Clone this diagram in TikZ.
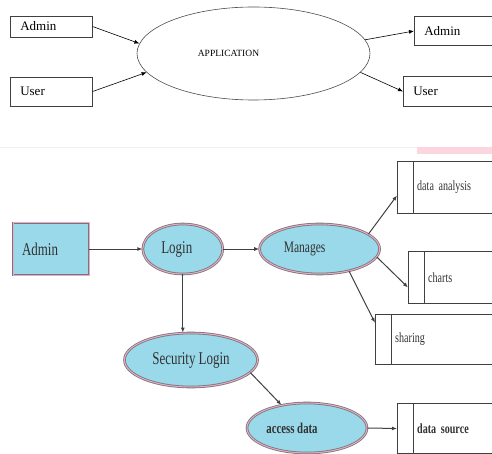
\documentclass[tikz,border=0pt]{standalone}
\usepackage{fontspec}
\setmainfont{Liberation Serif}
\newfontfamily\slimserif[FakeStretch=0.72]{Liberation Serif}
\usetikzlibrary{positioning,shapes.geometric,arrows.meta}
\definecolor{skyfill}{RGB}{153,217,234}
\definecolor{pinkline}{RGB}{236,168,200}
\definecolor{edgegray}{RGB}{118,118,118}
\definecolor{inkgray}{RGB}{50,50,50}
\definecolor{pinkbar}{RGB}{252,214,222}
\tikzset{
  line box/.style={
    rectangle,
    line width=0.6pt,
    text width=#1,
    inner xsep=10pt,
    align=left,
    anchor=west,
    font=\fontsize{13}{15}\selectfont,
  },
  app ellipse/.style={
    ellipse,
    draw=black!70,
    line width=0.6pt,
    inner sep=0pt,
    minimum width=233pt,
    minimum height=93pt,
    font=\fontsize{9.5}{11}\selectfont,
  },
  flow box/.style={
    rectangle,
    fill=skyfill,
    draw=edgegray,
    line width=0.8pt,
    double=pinkline,
    double distance=1pt,
    text=inkgray,
    font=\slimserif\fontsize{18}{20}\selectfont,
  },
  flow ellipse/.style={
    flow box,
    ellipse,
    inner sep=0pt,
  },
  store/.style={
    rectangle,
    anchor=west,
    text width=#1,
    inner xsep=20pt,
    align=left,
    text=inkgray,
    font=\slimserif\fontsize{14}{16}\selectfont,
  },
  store line/.style={
    draw=black!75,
    line width=0.9pt,
  },
}

\begin{document}
\begin{tikzpicture}[x=1pt, y=-1pt, >={Latex[length=5pt,width=4pt]}]
  \useasboundingbox (0,0) rectangle (492,454);
  \clip (0,0) rectangle (492,454);

  % context diagram
  \node [line box=62pt, draw=black!75, minimum height=21pt] (admA) at (10,26.5) {Admin};
  \node [line box=62pt, draw=black!75, minimum height=29pt] (usrA) at (10,91.5) {User};
  \node [app ellipse] (app) at (253.5,53.5) {APPLICATION\hspace*{50pt}};
  \node [line box=58pt, minimum height=28pt] (admB) at (414,31) {Admin};
  \node [line box=69pt, minimum height=29pt] (usrB) at (403,91.5) {User};

  \foreach \n in {admB,usrB}
    \draw [black!75, line width=0.6pt] (\n.north east) -| (\n.south west) -- (\n.south east);

  \draw [->, line width=0.6pt] (admA.east) -- (app.175);
  \draw [->, line width=0.6pt] (usrA.east) -- (app.190);
  \draw [->, line width=0.6pt] (app.7) -- (admB.west);
  \draw [->, line width=0.6pt] (app.-10) -- (usrB.west);

  \draw [black!6] (0,147) -- (417,147);
  \fill [pinkbar] (417,147) rectangle (492,154);

  % admin flow
  \node [flow box, minimum width=76pt, minimum height=52pt, text width=58pt, align=left] (admC) at (51,249) {Admin};
  \node [flow ellipse, minimum width=80pt, minimum height=50pt, right=53pt of admC] (login) {Login\hspace*{12pt}};
  \node [flow ellipse, minimum width=120pt, minimum height=50pt, right=36pt of login,
         font=\slimserif\fontsize{16}{18}\selectfont] (man) {Manages\hspace*{30pt}};
  \node [flow ellipse, minimum width=133pt, minimum height=54pt] (sec) at (191,360) {Security Login};
  \node [flow ellipse, minimum width=120pt, minimum height=50pt,
         font=\slimserif\bfseries\fontsize{15}{17}\selectfont] (acc) at (307,428) {access data\hspace*{30pt}};

  \node [store=55pt, minimum height=51pt] (ana) at (397,187.5) {data analysis};
  \node [store=44pt, minimum height=51pt] (cha) at (408,277.5) {charts};
  \node [store=77pt, minimum height=49pt] (sha) at (375,339.5) {sharing};
  \node [store=55pt, minimum height=50pt, font=\slimserif\bfseries\fontsize{14}{16}\selectfont] (src) at (397,428.5) {data source};

  \foreach \n in {ana,cha,sha,src}
    \draw [store line] (\n.north east) -| (\n.south west) -- (\n.south east)
      ([xshift=16pt]\n.north west) -- ([xshift=16pt]\n.south west);

  \draw [->, draw=black!75, line width=1pt] (admC.east) -- (login.west);
  \draw [->, draw=black!75, line width=1pt] (login.east) -- (man.west);
  \draw [->, draw=black!75, line width=1pt] (login.south) -- (login.south |- sec.north);
  \draw [->, draw=black!75, line width=1pt] (sec.-12) -- (acc.138);
  \draw [->, draw=black!75, line width=1pt] (acc.east) -- (src.west);
  \draw [->, draw=black!75, line width=1pt] (man.17) -- ([yshift=-8pt]ana.west);
  \draw [->, draw=black!75, line width=1pt] (man.-8) -- ([yshift=-10pt]cha.west);
  \draw [->, draw=black!75, line width=1pt] (man.-37) -- ([yshift=-8pt]sha.north west);
\end{tikzpicture}
\end{document}
